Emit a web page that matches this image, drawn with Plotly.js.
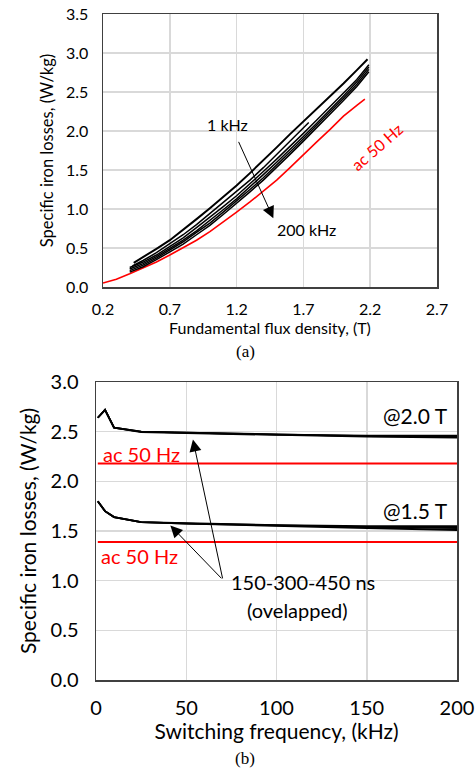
<!DOCTYPE html>
<html>
<head>
<meta charset="utf-8">
<script src="https://cdn.plot.ly/plotly-3.0.1.min.js"></script>
<style>html,body{margin:0;padding:0;background:#fff;}#chart{width:475px;height:773px;}</style>
</head>
<body>
<div id="chart"></div>
<script>
// ---- (a) specific iron losses vs fundamental flux density ----
const bAc50 = [0.2, 0.3, 0.4, 0.5, 0.6, 0.7, 0.8, 0.9, 1.0, 1.1, 1.2, 1.3, 1.4, 1.5, 1.6, 1.7, 1.8, 1.9, 2.0, 2.1, 2.16];
const pAc50 = [0.05, 0.10, 0.17, 0.24, 0.32, 0.41, 0.50, 0.60, 0.71, 0.83, 0.96, 1.09, 1.23, 1.37, 1.53, 1.70, 1.86, 2.02, 2.19, 2.33, 2.41];

const b1k = [0.43, 0.5, 0.6, 0.7, 0.8, 0.9, 1.0, 1.1, 1.2, 1.3, 1.4, 1.5, 1.6, 1.7, 1.8, 1.9, 2.0, 2.1, 2.18];
const p1k = [0.31, 0.38, 0.49, 0.60, 0.73, 0.87, 1.01, 1.15, 1.30, 1.46, 1.62, 1.79, 1.96, 2.12, 2.28, 2.45, 2.61, 2.78, 2.92];

const bShort = [0.42, 0.5, 0.6, 0.7, 0.8, 0.9, 1.0, 1.1, 1.2, 1.3, 1.4, 1.5, 1.6, 1.7, 1.74];
const pShort = [0.27, 0.34, 0.44, 0.55, 0.67, 0.80, 0.94, 1.08, 1.22, 1.37, 1.53, 1.70, 1.87, 2.05, 2.11];

const bBundle = [0.4, 0.5, 0.6, 0.7, 0.8, 0.9, 1.0, 1.1, 1.2, 1.3, 1.4, 1.5, 1.6, 1.7, 1.8, 1.9, 2.0, 2.1, 2.19];
const pBundleA = [0.25, 0.32, 0.41, 0.52, 0.63, 0.76, 0.89, 1.03, 1.17, 1.32, 1.48, 1.64, 1.80, 1.97, 2.14, 2.31, 2.48, 2.66, 2.85];
const pBundleB = [0.23, 0.30, 0.39, 0.49, 0.60, 0.72, 0.85, 0.99, 1.13, 1.28, 1.44, 1.60, 1.76, 1.93, 2.10, 2.27, 2.45, 2.63, 2.82];
const pBundleC = [0.21, 0.28, 0.37, 0.47, 0.58, 0.70, 0.82, 0.96, 1.10, 1.25, 1.40, 1.56, 1.73, 1.90, 2.07, 2.24, 2.42, 2.60, 2.79];
const pBundleD = [0.19, 0.26, 0.35, 0.45, 0.55, 0.67, 0.79, 0.93, 1.07, 1.22, 1.37, 1.53, 1.70, 1.87, 2.04, 2.21, 2.39, 2.57, 2.76];

const xTicksA = [0.2, 0.7, 1.2, 1.7, 2.2, 2.7];
const yTicksA = [0.0, 0.5, 1.0, 1.5, 2.0, 2.5, 3.0, 3.5];

// ---- (b) specific iron losses vs switching frequency ----
const fSw = [1, 5, 10, 25, 50, 100, 150, 200];
const p20_150 = [2.64, 2.72, 2.54, 2.50, 2.49, 2.47, 2.46, 2.46];
const p20_300 = [2.64, 2.72, 2.54, 2.50, 2.49, 2.47, 2.455, 2.45];
const p20_450 = [2.64, 2.72, 2.54, 2.495, 2.485, 2.465, 2.45, 2.44];
const p15_150 = [1.80, 1.70, 1.64, 1.59, 1.58, 1.56, 1.55, 1.55];
const p15_300 = [1.80, 1.70, 1.64, 1.59, 1.575, 1.555, 1.54, 1.53];
const p15_450 = [1.80, 1.70, 1.64, 1.59, 1.575, 1.55, 1.53, 1.51];
const fAc = [1, 200];
const pAc20 = [2.18, 2.18];
const pAc15 = [1.39, 1.39];

const xTicksB = [0, 50, 100, 150, 200];
const yTicksB = [0.0, 0.5, 1.0, 1.5, 2.0, 2.5, 3.0];

const FONT = 'Lato, "Open Sans", sans-serif';
const SERIF = '"Liberation Serif", "Times New Roman", serif';
const RED = '#ff0000';

function line(x, y, color, width, xa, ya) {
  return {x: x, y: y, type: 'scatter', mode: 'lines', xaxis: xa, yaxis: ya,
          line: {color: color, width: width}, hoverinfo: 'skip', showlegend: false};
}

const traces = [
  line(bAc50, pAc50, RED, 1.6, 'x', 'y'),
  line(bBundle, pBundleD, '#000', 1.5, 'x', 'y'),
  line(bBundle, pBundleC, '#000', 1.5, 'x', 'y'),
  line(bBundle, pBundleB, '#000', 1.5, 'x', 'y'),
  line(bBundle, pBundleA, '#000', 1.5, 'x', 'y'),
  line(bShort, pShort, '#000', 1.5, 'x', 'y'),
  line(b1k, p1k, '#000', 2, 'x', 'y'),

  line(fAc, pAc20, RED, 2, 'x2', 'y2'),
  line(fAc, pAc15, RED, 2, 'x2', 'y2'),
  line(fSw, p20_150, '#000', 1.8, 'x2', 'y2'),
  line(fSw, p20_300, '#000', 1.8, 'x2', 'y2'),
  line(fSw, p20_450, '#000', 1.8, 'x2', 'y2'),
  line(fSw, p15_150, '#000', 1.8, 'x2', 'y2'),
  line(fSw, p15_300, '#000', 1.8, 'x2', 'y2'),
  line(fSw, p15_450, '#000', 1.8, 'x2', 'y2')
];

const axisCommon = {
  showgrid: true, gridcolor: '#d9d9d9', gridwidth: 1.5,
  showline: true, mirror: true, linecolor: '#404040', linewidth: 1.5,
  zeroline: false, ticks: '', fixedrange: true
};

const layout = {
  width: 475, height: 773,
  margin: {l: 0, r: 0, t: 0, b: 0},
  paper_bgcolor: '#fff', plot_bgcolor: '#fff',
  font: {family: FONT, color: '#000'},
  showlegend: false,
  xaxis: Object.assign({}, axisCommon, {
    domain: [103/475, 437/475], range: [0.2, 2.7], anchor: 'y',
    tickvals: xTicksA, ticktext: xTicksA.map(v => v.toFixed(1)),
    tickfont: {size: 16, family: FONT}, ticklabelstandoff: 7,
    title: {text: 'Fundamental flux density, (T)', font: {size: 16, family: FONT}, standoff: 3}
  }),
  yaxis: Object.assign({}, axisCommon, {
    domain: [(773-287)/773, (773-14)/773], range: [0, 3.5], anchor: 'x',
    tickvals: yTicksA, ticktext: yTicksA.map(v => v.toFixed(1)),
    tickfont: {size: 16, family: FONT}, ticklabelstandoff: 10,
    title: {text: 'Specific iron losses, (W/kg)', font: {size: 16.5, family: FONT}, standoff: 8}
  }),
  xaxis2: Object.assign({}, axisCommon, {
    domain: [96/475, 457/475], range: [0, 200], anchor: 'y2',
    tickvals: xTicksB, ticktext: xTicksB.map(v => String(v)),
    tickfont: {size: 20, family: FONT}, ticklabelstandoff: 9,
    title: {text: 'Switching frequency, (kHz)', font: {size: 21, family: FONT}, standoff: 0}
  }),
  yaxis2: Object.assign({}, axisCommon, {
    domain: [(773-680)/773, (773-382)/773], range: [0, 3.0], anchor: 'x2',
    tickvals: yTicksB, ticktext: yTicksB.map(v => v.toFixed(1)),
    tickfont: {size: 20, family: FONT}, ticklabelstandoff: 12,
    title: {text: 'Specific iron losses, (W/kg)', font: {size: 21, family: FONT}, standoff: 8}
  }),
  annotations: [
    // (a)
    {xref: 'x', yref: 'y', x: 1.135, y: 2.08, text: '1 kHz', showarrow: false, font: {size: 16, family: FONT}},
    {xref: 'x', yref: 'y', x: 1.475, y: 0.88, ax: 1.21, ay: 1.88, axref: 'x', ayref: 'y', text: '',
     showarrow: true, arrowhead: 2, arrowsize: 2.4, arrowwidth: 1, arrowcolor: '#000', standoff: 0},
    {xref: 'x', yref: 'y', x: 1.725, y: 0.74, text: '200 kHz', showarrow: false, font: {size: 16, family: FONT}},
    {xref: 'x', yref: 'y', x: 2.25, y: 1.80, text: 'ac 50 Hz', showarrow: false, textangle: -41, font: {size: 16, family: FONT, color: RED}},
    {xref: 'paper', yref: 'paper', x: 245/475, y: (773-352)/773, yanchor: 'middle', text: '(a)', showarrow: false,
     font: {size: 17, family: SERIF}},
    // (b)
    {xref: 'x2', yref: 'y2', x: 196, y: 2.66, xanchor: 'right', text: '@2.0 T', showarrow: false, font: {size: 21, family: FONT}},
    {xref: 'x2', yref: 'y2', x: 196, y: 1.71, xanchor: 'right', text: '@1.5 T', showarrow: false, font: {size: 21, family: FONT}},
    {xref: 'x2', yref: 'y2', x: 25, y: 2.28, text: 'ac 50 Hz', showarrow: false, font: {size: 20, family: FONT, color: RED}},
    {xref: 'x2', yref: 'y2', x: 24.2, y: 1.25, text: 'ac 50 Hz', showarrow: false, font: {size: 20, family: FONT, color: RED}},
    {xref: 'x2', yref: 'y2', x: 114.7, y: 0.99, text: '150-300-450 ns', showarrow: false, font: {size: 20, family: FONT}},
    {xref: 'x2', yref: 'y2', x: 111.9, y: 0.705, text: '(ovelapped)', showarrow: false, font: {size: 20, family: FONT}},
    {xref: 'x2', yref: 'y2', x: 53.7, y: 2.42, ax: 70.3, ay: 1.008, axref: 'x2', ayref: 'y2', text: '',
     showarrow: true, arrowhead: 2, arrowsize: 2.4, arrowwidth: 1, arrowcolor: '#000', standoff: 0},
    {xref: 'x2', yref: 'y2', x: 41.2, y: 1.555, ax: 70.3, ay: 1.008, axref: 'x2', ayref: 'y2', text: '',
     showarrow: true, arrowhead: 2, arrowsize: 2.4, arrowwidth: 1, arrowcolor: '#000', standoff: 0},
    {xref: 'paper', yref: 'paper', x: 245/475, y: (773-758)/773, yanchor: 'middle', text: '(b)', showarrow: false,
     font: {size: 17, family: SERIF}}
  ]
};

Plotly.newPlot('chart', traces, layout, {staticPlot: true, displayModeBar: false});
</script>
</body>
</html>
